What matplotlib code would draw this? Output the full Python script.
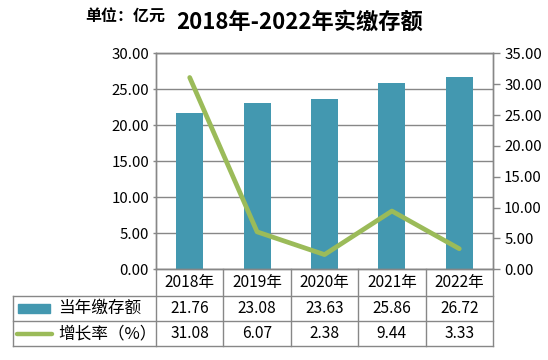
import matplotlib
matplotlib.use("Agg")
import matplotlib.pyplot as plt
from matplotlib.lines import Line2D
from matplotlib.patches import Rectangle

plt.rcParams['font.family'] = ['Noto Sans CJK SC', 'DejaVu Sans']

years = ['2018年', '2019年', '2020年', '2021年', '2022年']
deposit = [21.76, 23.08, 23.63, 25.86, 26.72]
growth = [31.08, 6.07, 2.38, 9.44, 3.33]
series_names = ['当年缴存额', '增长率（%）']
title = '2018年-2022年实缴存额'
unit = '单位：亿元'

BAR = '#4398B0'
LINE = '#9BBB59'
GRID = '#878787'

W, H = 548, 360
fig = plt.figure(figsize=(W/100, H/100), dpi=100)
L, R, T, B = 156, 493, 53.3, 269.3
ax = fig.add_axes([L/W, 1-B/H, (R-L)/W, (B-T)/H])
ax2 = ax.twinx()

x = list(range(len(years)))
ax.bar(x, deposit, width=0.4, color=BAR, zorder=2)
ax.set_xlim(-0.5, len(years)-0.5)
ax.set_ylim(0, 30)
ax.set_yticks(range(0, 31, 5))
ax.set_yticklabels([f'{v:.2f}' for v in range(0, 31, 5)])
ax.yaxis.grid(True, color=GRID, linewidth=1)
ax.set_axisbelow(True)
ax.set_xticks([])

ax2.plot(x, growth, color=LINE, linewidth=3.4, solid_capstyle='round', zorder=3)
ax2.set_ylim(0, 35)
ax2.set_yticks(range(0, 36, 5))
ax2.set_yticklabels([f'{v:.2f}' for v in range(0, 36, 5)])

for a in (ax, ax2):
    for s in a.spines.values():
        s.set_color(GRID)
        s.set_linewidth(1)
    a.tick_params(axis='y', colors=GRID, labelcolor='black', labelsize=10.8, length=4, width=1, pad=3)
ax.tick_params(axis='y', length=2)
ax2.tick_params(axis='y', length=5)

# table
ph = B - T
def ay(px):  # pixel y -> axes frac
    return (B - px) / ph
def ax_x(px):
    return (px - L) / (R - L)

rows = [269.3, 296, 321, 346]
legx = 12.7
lk = dict(color=GRID, linewidth=1, transform=ax.transAxes, clip_on=False)
for yy in rows[1:]:
    ax.add_line(Line2D([ax_x(legx), 1], [ay(yy), ay(yy)], **lk))
for i in range(len(years)+1):
    xf = i / len(years)
    ax.add_line(Line2D([xf, xf], [ay(rows[0]), ay(rows[-1])], **lk))
ax.add_line(Line2D([ax_x(legx), ax_x(legx)], [ay(rows[1]), ay(rows[-1])], **lk))

fs = 11.2
for i, yv in enumerate(years):
    xf = (i + 0.5) / len(years)
    ax.text(xf, ay((rows[0]+rows[1])/2), yv, transform=ax.transAxes, ha='center', va='center', fontsize=fs, clip_on=False)
    ax.text(xf, ay((rows[1]+rows[2])/2), f'{deposit[i]:.2f}', transform=ax.transAxes, ha='center', va='center', fontsize=fs, clip_on=False)
    ax.text(xf, ay((rows[2]+rows[3])/2), f'{growth[i]:.2f}', transform=ax.transAxes, ha='center', va='center', fontsize=fs, clip_on=False)

ax.add_patch(Rectangle((ax_x(18), ay(312.5)), ax_x(49.5)-ax_x(18), ay(303.5)-ay(312.5),
                       transform=ax.transAxes, color=BAR, clip_on=False))
ax.add_line(Line2D([ax_x(17), ax_x(52)], [ay(333.5), ay(333.5)], color=LINE, linewidth=3.2,
                   transform=ax.transAxes, clip_on=False, solid_capstyle='round'))
ax.text(ax_x(58), ay((rows[1]+rows[2])/2), series_names[0], transform=ax.transAxes, ha='left', va='center', fontsize=12, clip_on=False)
ax.text(ax_x(58), ay((rows[2]+rows[3])/2), series_names[1], transform=ax.transAxes, ha='left', va='center', fontsize=12, clip_on=False)

fig.text(300/W, 1-22/H, title, ha='center', va='center', fontsize=16, fontweight='bold')
fig.text(85/W, 1-17/H, unit, ha='left', va='center', fontsize=11.5, fontweight='bold')

fig.savefig('out.png', dpi=100)
